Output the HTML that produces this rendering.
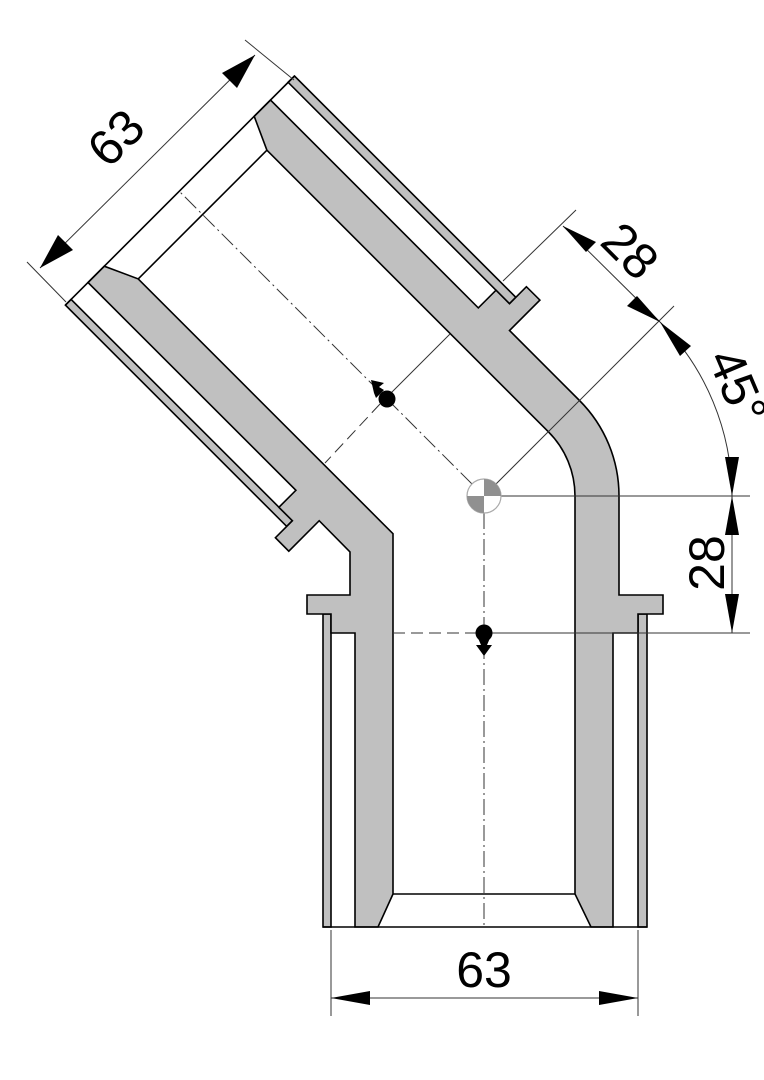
<!DOCTYPE html>
<html><head><meta charset="utf-8"><style>html,body{margin:0;padding:0;background:#fff}svg{display:block}</style></head>
<body>
<svg width="764" height="1080" viewBox="0 0 764 1080" xmlns="http://www.w3.org/2000/svg">
<g stroke="#000" stroke-width="1.6" stroke-linejoin="miter" fill="#c0c0c0">
<rect x="323" y="614" width="8" height="313"/>
<rect x="638" y="614" width="9" height="313"/>
<polygon points="286.7,526.4 292.4,520.7 71.1,299.4 65.4,305.1"/>
<polygon points="509.5,303.7 515.8,297.3 294.5,76.0 288.1,82.3"/>
<polygon points="393,894 378,927 355,927 355,633 331,633 331,614 307,614 307,595 350,595 350,552 319.2,520.7 288.8,551.2 275.4,537.7 292.4,520.7 278.9,507.3 295.9,490.3 88.0,282.5 104.3,266.2 138.2,278.9 393,533.7"/>
<path d="M575,496 L575,894 L591,927 L613,927 L613,633 L638,633 L638,614 L663,614 L663,595 L619,595 L619,496 A135,135 0 0 0 579.5,400.5 L509.5,330.5 L539.9,300.1 L526.4,286.7 L509.5,303.7 L496.0,290.2 L478.3,307.9 L270.5,100.0 L254.2,116.3 L266.9,150.2 L548.3,431.7 A91,91 0 0 1 575,496 Z"/>
</g>
<g stroke="#000" stroke-width="1.6" fill="none">
<line x1="323" y1="927" x2="647" y2="927"/>
<line x1="393" y1="894" x2="575" y2="894"/>
<line x1="65.4" y1="305.1" x2="294.5" y2="76.0"/>
<line x1="138.2" y1="278.9" x2="266.9" y2="150.2"/>
</g>
<g stroke="#333" stroke-width="1" fill="none">
<line x1="484" y1="513" x2="484" y2="927" stroke-dasharray="16 4 2 4"/>
<line x1="472" y1="484" x2="179" y2="191" stroke-dasharray="16 4 2 4"/>
<line x1="393" y1="633" x2="478" y2="633" stroke-dasharray="12 6"/>
<line x1="484" y1="633" x2="750" y2="633"/>
<line x1="484" y1="496" x2="750" y2="496"/>
<line x1="380" y1="404" x2="325" y2="463" stroke-dasharray="12 6"/>
<line x1="386" y1="398" x2="450" y2="334"/>
<line x1="503" y1="281" x2="576" y2="210"/>
<line x1="484" y1="496" x2="674" y2="306"/>
<line x1="331" y1="930" x2="331" y2="1016"/>
<line x1="638" y1="930" x2="638" y2="1016"/>
<line x1="331" y1="998" x2="638" y2="998"/>
<line x1="732" y1="496" x2="732" y2="633"/>
<line x1="563" y1="226" x2="660" y2="322"/>
<path d="M660,322 A248,248 0 0 1 732,496"/>
<line x1="294" y1="80" x2="245" y2="40"/>
<line x1="66" y1="302" x2="27" y2="262"/>
<line x1="40" y1="268" x2="255" y2="55"/>
</g>
<g fill="#000">
<polygon points="331,998 370,991 370,1005"/>
<polygon points="638,998 599,991 599,1005"/>
<polygon points="732,496 725,535 739,535"/>
<polygon points="732,633 725,594 739,594"/>
<polygon points="732,496 725,457 739,457"/>
<polygon points="563,226 586,252 596,242"/>
<polygon points="660,322 637,296 627,306"/>
<polygon points="660,322 680,356 691,346"/>
<polygon points="40,268 73,250 58,235"/>
<polygon points="255,55 222,73 237,88"/>
<circle cx="484" cy="633" r="8.5"/>
<polygon points="478,638 490,638 487,645 492,645 484,656 476,645 481,645"/>
<circle cx="387" cy="399" r="8.5"/>
<polygon points="384,390 376,398 374,393 371,380 384,383 379,387"/>
</g>
<circle cx="484" cy="496" r="17" fill="#fff" stroke="#aaa" stroke-width="1.2"/>
<path d="M484,496 L484,479 A17,17 0 0 1 501,496 Z" fill="#909090"/>
<path d="M484,496 L484,513 A17,17 0 0 1 467,496 Z" fill="#909090"/>
<g font-family="'Liberation Sans', sans-serif" font-size="50" fill="#000" text-anchor="middle">
<text x="484" y="987">63</text>
<text transform="translate(724,563) rotate(-90)">28</text>
<text transform="translate(618,263) rotate(45)">28</text>
<text transform="translate(128,150) rotate(-45)">63</text>
<text transform="translate(722,393) rotate(67)">45°</text>
</g>
</svg>
</body></html>
